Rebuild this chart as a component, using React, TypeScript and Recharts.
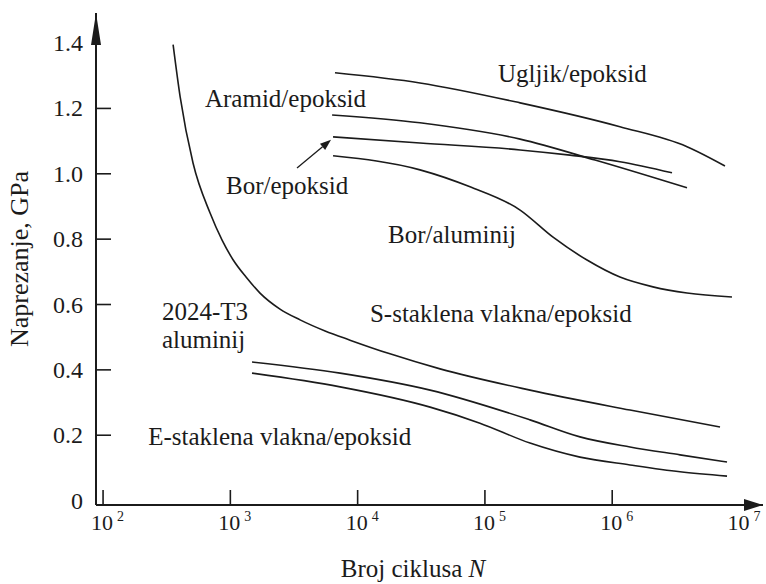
import React from 'react';
import { LineChart, Line, XAxis, YAxis, ReferenceDot, ReferenceLine } from 'recharts';

const FONT = "'Liberation Serif', 'Times New Roman', 'DejaVu Serif', serif";
const INK = '#1b1b1b';
const TXT = { fontFamily: FONT };

// axis ticks
const X_TICKS = [1e2, 1e3, 1e4, 1e5, 1e6, 1e7];
const X_EXPONENTS = ['2', '3', '4', '5', '6', '7'];
const Y_TICKS = [0, 0.2, 0.4, 0.6, 0.8, 1.0, 1.2, 1.4];
const Y_TICK_LABELS = ['0', '0.2', '0.4', '0.6', '0.8', '1.0', '1.2', '1.4'];
const X_DOMAIN = [88, 1.53e7];
const Y_DOMAIN = [-0.0135, 1.492];

// series: cycles N and stress (GPa)
const ugljikN = [6640, 30900, 189000, 1150000, 3870000, 7690000];
const ugljikS = [1.309, 1.278, 1.217, 1.144, 1.083, 1.024];

const aramidN = [6300, 30900, 189000, 733000, 3870000];
const aramidS = [1.18, 1.156, 1.106, 1.042, 0.957];

const borEpoN = [6410, 30900, 189000, 466000, 1150000, 2950000];
const borEpoS = [1.113, 1.094, 1.073, 1.057, 1.037, 1.003];

const borAlN = [6410, 30900, 76400, 189000, 343000, 634000, 1150000, 2090000, 3870000, 8730000];
const borAlS = [1.055, 1.012, 0.96, 0.889, 0.806, 0.736, 0.684, 0.654, 0.635, 0.623];

const sGlassN = [355, 403, 509, 693, 861, 1050, 1328, 1710, 2455, 3530, 5550, 8710, 17950, 44400, 226000, 1380000, 7030000];
const sGlassS = [1.395, 1.236, 1.033, 0.88, 0.797, 0.737, 0.684, 0.635, 0.586, 0.553, 0.519, 0.491, 0.449, 0.403, 0.338, 0.277, 0.225];

const al2024N = [1480, 7280, 37100, 226000, 558000, 1380000, 3410000, 7980000];
const al2024S = [0.424, 0.39, 0.338, 0.247, 0.195, 0.164, 0.14, 0.118];

const eGlassN = [1480, 7280, 37100, 91400, 226000, 558000, 1380000, 3410000, 7980000];
const eGlassS = [0.39, 0.348, 0.286, 0.237, 0.176, 0.133, 0.109, 0.088, 0.075];

// annotation texts and their anchor (left, baseline) in data coordinates
const LABEL_TEXTS = [
  'Ugljik/epoksid',
  'Aramid/epoksid',
  'Bor/epoksid',
  'Bor/aluminij',
  'S-staklena vlakna/epoksid',
  '2024-T3',
  'aluminij',
  'E-staklena vlakna/epoksid',
];
const LABEL_N = [126800, 632, 925, 17340, 12500, 290, 290, 226];
const LABEL_S = [1.281, 1.204, 0.938, 0.788, 0.546, 0.553, 0.467, 0.17];

// pointer arrow for Bor/epoksid
const POINTER_N = [3340, 6180];
const POINTER_S = [1.018, 1.104];

const toPoints = (ns: number[], ss: number[]) => ns.map((n, i) => ({ n, s: ss[i] }));

const SERIES = [
  toPoints(ugljikN, ugljikS),
  toPoints(aramidN, aramidS),
  toPoints(borEpoN, borEpoS),
  toPoints(borAlN, borAlS),
  toPoints(sGlassN, sGlassS),
  toPoints(al2024N, al2024S),
  toPoints(eGlassN, eGlassS),
];

const nearestIndex = (arr: number[], v: number) => {
  let best = 0;
  for (let i = 1; i < arr.length; i++) {
    if (Math.abs(arr[i] - v) < Math.abs(arr[best] - v)) best = i;
  }
  return best;
};

const XTick = (props: any) => {
  const { x, y, payload } = props;
  const i = nearestIndex(X_TICKS, payload.value);
  const showLine = i < X_TICKS.length - 1;
  return (
    <g>
      {showLine && <line x1={x} y1={y} x2={x} y2={y - 15} stroke={INK} strokeWidth={1.6} />}
      <text x={x - 1} y={y + 25} textAnchor="middle" style={TXT} fontSize={22} fill={INK}>
        10
      </text>
      <text x={x + 14} y={y + 16} style={TXT} fontSize={14} fill={INK}>
        {X_EXPONENTS[i]}
      </text>
    </g>
  );
};

const YTick = (props: any) => {
  const { x, y, payload } = props;
  const i = nearestIndex(Y_TICKS, payload.value);
  const showLine = i > 0 && i < Y_TICKS.length - 1;
  return (
    <g>
      {showLine && <line x1={x} y1={y} x2={x + 15} y2={y} stroke={INK} strokeWidth={1.6} />}
      <text x={x - 13} y={y + 8} textAnchor="end" style={TXT} fontSize={24} fill={INK}>
        {Y_TICK_LABELS[i]}
      </text>
    </g>
  );
};

const ArrowUp = (props: any) => {
  const { cx, cy } = props;
  return <path d={`M${cx},${cy} L${cx + 5},${cy + 32} L${cx - 5},${cy + 32} Z`} fill={INK} />;
};

const ArrowRight = (props: any) => {
  const { cx, cy } = props;
  return <path d={`M${cx},${cy} L${cx - 19},${cy - 6} L${cx - 19},${cy + 6} Z`} fill={INK} />;
};

const makeLabelShape = (text: string) => (props: any) => {
  const { cx, cy } = props;
  return (
    <text x={cx} y={cy} style={TXT} fontSize={25} fill={INK}>
      {text}
    </text>
  );
};

const PointerShape = (props: any) => {
  const { x1, y1, x2, y2 } = props;
  if (x1 == null) return null;
  const dx = x2 - x1;
  const dy = y2 - y1;
  const len = Math.sqrt(dx * dx + dy * dy) || 1;
  const ux = dx / len;
  const uy = dy / len;
  const hl = 11;
  const hw = 4;
  const bx = x2 - ux * hl;
  const by = y2 - uy * hl;
  return (
    <g>
      <line x1={x1} y1={y1} x2={bx} y2={by} stroke={INK} strokeWidth={1.3} />
      <path
        d={`M${x2},${y2} L${bx - uy * hw},${by + ux * hw} L${bx + uy * hw},${by - ux * hw} Z`}
        fill={INK}
      />
    </g>
  );
};

const XTitle = (props: any) => {
  const vb = props.viewBox || { x: 96, y: 505, width: 667, height: 79 };
  return (
    <text x={vb.x + 317} y={vb.y + 72} textAnchor="middle" style={TXT} fontSize={25} fill={INK}>
      Broj ciklusa <tspan fontStyle="italic">N</tspan>
    </text>
  );
};

const YTitle = (props: any) => {
  const vb = props.viewBox || { x: 0, y: 13, width: 96, height: 492 };
  const cx = vb.x + 28;
  const cy = vb.y + vb.height / 2;
  return (
    <text
      x={0}
      y={0}
      transform={`translate(${cx},${cy}) rotate(-90)`}
      textAnchor="middle"
      style={TXT}
      fontSize={26}
      fill={INK}
    >
      Naprezanje, GPa
    </text>
  );
};

export default function App() {
  return (
    <div style={{ position: 'absolute', left: 0, top: 0, width: 766, height: 584, background: '#fff' }}>
      <LineChart width={766} height={584} margin={{ top: 13, right: 3, bottom: 0, left: 0 }}>
        <XAxis
          dataKey="n"
          type="number"
          scale="log"
          domain={X_DOMAIN}
          allowDataOverflow
          ticks={X_TICKS}
          interval={0}
          height={79}
          tickLine={false}
          tickSize={0}
          tickMargin={0}
          axisLine={{ stroke: INK, strokeWidth: 2 }}
          tick={(p: any) => <XTick {...p} />}
          label={<XTitle />}
        />
        <YAxis
          dataKey="s"
          type="number"
          domain={Y_DOMAIN}
          allowDataOverflow
          ticks={Y_TICKS}
          interval={0}
          width={96}
          tickLine={false}
          tickSize={0}
          tickMargin={0}
          axisLine={{ stroke: INK, strokeWidth: 2 }}
          tick={(p: any) => <YTick {...p} />}
          label={<YTitle />}
        />
        {SERIES.map((data, i) => (
          <Line
            key={i}
            data={data}
            dataKey="s"
            type="monotone"
            stroke={INK}
            strokeWidth={1.6}
            dot={false}
            activeDot={false}
            isAnimationActive={false}
          />
        ))}
        <ReferenceLine
          segment={[
            { x: POINTER_N[0], y: POINTER_S[0] },
            { x: POINTER_N[1], y: POINTER_S[1] },
          ]}
          ifOverflow="visible"
          stroke={INK}
          shape={(p: any) => <PointerShape {...p} />}
        />
        {LABEL_TEXTS.map((t, i) => (
          <ReferenceDot
            key={t}
            x={LABEL_N[i]}
            y={LABEL_S[i]}
            r={0}
            ifOverflow="visible"
            shape={makeLabelShape(t)}
          />
        ))}
        <ReferenceDot x={X_DOMAIN[0]} y={Y_DOMAIN[1]} r={0} ifOverflow="visible" shape={(p: any) => <ArrowUp {...p} />} />
        <ReferenceDot x={X_DOMAIN[1]} y={Y_DOMAIN[0]} r={0} ifOverflow="visible" shape={(p: any) => <ArrowRight {...p} />} />
      </LineChart>
    </div>
  );
}
